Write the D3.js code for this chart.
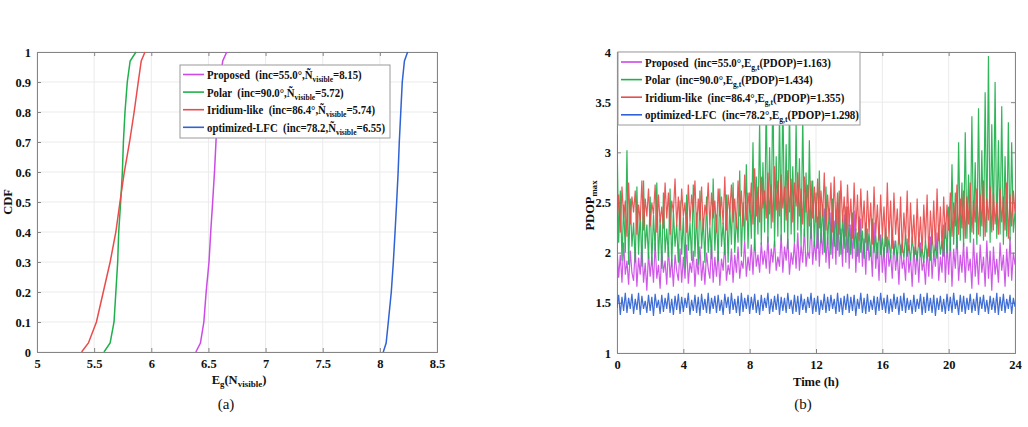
<!DOCTYPE html>
<html>
<head>
<meta charset="utf-8">
<script src="https://cdn.jsdelivr.net/npm/d3@7"></script>
<style>
  body { margin: 0; background: #fff; }
  svg { display: block; font-family: "Liberation Serif", "Times New Roman", serif; }
</style>
</head>
<body>
<svg id="fig" width="1028" height="427"></svg>
<script>
// ---- data: (a) CDF of visible satellites ----
const cdfLevels   = [0, 0.03, 0.1, 0.2, 0.3, 0.4, 0.5, 0.6, 0.7, 0.8, 0.9, 0.97, 1];
const cdfProposed = [6.39, 6.43, 6.46, 6.48, 6.505, 6.52, 6.537, 6.553, 6.566, 6.58, 6.60, 6.625, 6.66];
const cdfPolar    = [5.586, 5.64, 5.674, 5.69, 5.706, 5.715, 5.732, 5.747, 5.756, 5.77, 5.79, 5.815, 5.866];
const cdfIridium  = [5.39, 5.45, 5.52, 5.58, 5.64, 5.69, 5.726, 5.764, 5.81, 5.85, 5.886, 5.912, 5.945];
const cdfLfc      = [8.03, 8.055, 8.074, 8.10, 8.118, 8.133, 8.147, 8.16, 8.17, 8.183, 8.196, 8.215, 8.243];

const xTicksA = [5, 5.5, 6, 6.5, 7, 7.5, 8, 8.5];
const yTicksA = [0, 0.1, 0.2, 0.3, 0.4, 0.5, 0.6, 0.7, 0.8, 0.9, 1];

// ---- data: (b) PDOP max over one day, sampled every 0.1 h ----
const sampleStep = 0.1;
const pdopProposed = [
  2.05,1.75,1.98,1.70,2.10,1.78,1.92,1.68,2.02,1.80,
  1.72,2.05,1.66,1.95,1.78,2.08,1.70,1.90,1.62,2.00,
  1.76,1.96,1.70,2.10,1.74,1.88,1.64,2.02,1.80,1.92,
  1.68,2.06,1.75,1.94,1.66,1.98,1.82,1.72,2.04,1.70,
  1.96,1.74,2.08,1.69,1.90,1.80,2.02,1.66,1.94,1.78,
  2.06,1.72,1.92,1.68,2.00,1.84,1.74,2.08,1.70,1.96,
  1.76,2.02,1.67,1.94,1.82,2.10,1.72,1.88,1.78,2.04,
  1.70,1.98,1.80,2.06,1.74,1.92,1.84,2.12,1.76,1.96,
  1.82,2.08,1.78,2.14,1.86,1.98,1.80,2.10,1.88,2.02,
  1.84,2.16,1.79,2.04,1.90,2.12,1.82,1.96,1.86,2.18,
  1.80,2.06,1.92,2.14,1.78,2.00,1.88,2.10,1.84,2.20,
  1.82,2.08,1.90,2.24,1.86,2.02,1.94,2.30,1.88,2.12,
  1.92,2.36,1.86,2.20,1.98,2.44,1.90,2.16,1.84,2.40,
  1.94,2.32,1.88,2.50,1.96,2.24,1.86,2.38,1.90,2.46,
  1.84,2.28,1.94,2.42,1.80,2.20,1.90,2.34,1.86,2.14,
  1.78,2.24,1.92,2.06,1.76,2.30,1.84,2.10,1.72,2.18,
  1.80,2.04,1.70,2.16,1.86,1.98,1.74,2.12,1.82,2.00,
  1.68,2.08,1.84,1.94,1.72,2.14,1.80,1.96,1.66,2.06,
  1.78,2.02,1.70,2.10,1.82,1.92,1.68,2.04,1.76,2.16,
  1.74,2.00,1.86,2.20,1.72,1.96,1.80,2.28,1.70,2.08,
  1.78,2.12,1.66,2.04,1.84,2.18,1.72,1.98,1.80,2.10,
  1.70,2.06,1.82,1.94,1.64,2.14,1.76,2.00,1.68,2.08,
  1.80,1.96,1.66,2.12,1.74,2.02,1.62,2.06,1.78,1.94,
  1.70,2.10,1.82,1.98,1.66,2.04,1.76,2.16,1.72,2.00,
  1.88
];
const pdopPolar = [
  3.18,2.10,2.62,1.92,2.48,2.00,3.02,1.88,2.54,2.06,
  2.30,1.90,2.66,1.98,2.40,1.86,2.72,2.04,2.28,1.94,
  2.56,1.88,2.38,2.02,2.70,1.92,2.34,1.84,2.60,2.00,
  2.24,1.96,2.64,1.86,2.42,2.06,2.28,1.90,2.52,1.98,
  2.36,1.84,2.58,2.02,2.30,1.92,2.68,1.96,2.40,1.88,
  2.62,2.04,2.34,1.90,2.56,2.00,2.26,1.94,2.74,2.02,
  2.38,1.92,2.64,2.06,2.30,1.98,2.58,1.90,2.46,2.08,
  2.70,2.00,2.36,2.10,2.82,1.96,2.50,2.12,2.88,2.04,
  2.60,2.14,3.10,2.02,2.76,2.18,3.30,2.08,2.90,2.20,
  3.55,2.10,3.05,2.24,3.72,2.06,2.96,2.16,3.40,2.12,
  3.62,2.20,3.08,2.04,3.48,2.18,2.86,2.10,3.30,2.22,
  2.94,2.08,3.36,2.16,2.80,2.02,3.12,2.14,2.72,2.06,
  2.60,2.04,2.82,2.10,2.48,2.00,2.66,2.08,2.44,1.98,
  2.54,2.06,2.38,2.02,2.62,1.98,2.34,2.04,2.46,2.00,
  2.28,1.98,2.40,2.04,2.24,1.96,2.36,2.00,2.22,1.94,
  2.30,2.02,2.20,1.96,2.34,2.00,2.18,1.94,2.26,1.98,
  2.16,1.96,2.24,2.00,2.14,1.94,2.22,1.98,2.12,1.92,
  2.20,1.98,2.10,1.94,2.18,1.96,2.08,1.92,2.16,1.96,
  2.06,1.92,2.14,1.96,2.04,1.90,2.12,1.94,2.10,1.92,
  2.18,1.96,2.08,1.94,2.24,1.98,2.12,1.96,2.30,2.00,
  2.46,2.02,2.88,2.08,2.60,2.04,3.10,2.12,2.70,2.06,
  3.20,2.14,2.78,2.10,3.36,2.18,2.90,2.08,3.44,2.16,
  3.02,2.12,3.60,2.20,3.96,2.10,3.28,2.22,3.70,2.14,
  3.12,2.18,3.46,2.08,2.96,2.16,3.30,2.12,3.10,2.20,
  2.40
];
const pdopIridium = [
  2.30,2.58,2.20,2.66,2.34,2.52,2.16,2.70,2.28,2.56,
  2.40,2.62,2.18,2.48,2.32,2.72,2.22,2.54,2.36,2.64,
  2.26,2.50,2.38,2.68,2.20,2.58,2.30,2.46,2.24,2.70,
  2.34,2.60,2.18,2.52,2.40,2.74,2.26,2.56,2.22,2.64,
  2.36,2.50,2.20,2.68,2.30,2.58,2.40,2.72,2.24,2.54,
  2.32,2.66,2.22,2.48,2.38,2.70,2.26,2.60,2.34,2.52,
  2.20,2.64,2.36,2.56,2.28,2.76,2.22,2.58,2.40,2.68,
  2.30,2.54,2.24,2.72,2.36,2.62,2.26,2.78,2.32,2.60,
  2.40,2.70,2.28,2.84,2.36,2.66,2.30,2.76,2.44,2.62,
  2.34,2.80,2.38,2.68,2.30,2.86,2.42,2.72,2.36,2.78,
  2.44,2.66,2.32,2.82,2.40,2.74,2.30,2.70,2.46,2.80,
  2.36,2.64,2.28,2.76,2.40,2.68,2.26,2.72,2.34,2.66,
  2.30,2.74,2.24,2.62,2.36,2.80,2.22,2.58,2.32,2.70,
  2.20,2.76,2.28,2.60,2.18,2.72,2.30,2.56,2.16,2.68,
  2.26,2.54,2.14,2.70,2.22,2.58,2.12,2.64,2.24,2.52,
  2.10,2.62,2.20,2.50,2.08,2.66,2.18,2.48,2.12,2.58,
  2.16,2.46,2.06,2.70,2.14,2.52,2.04,2.60,2.18,2.44,
  2.08,2.56,2.00,2.40,2.12,2.62,2.02,2.50,2.10,2.38,
  1.98,2.54,2.06,2.36,2.00,2.48,2.10,2.58,1.96,2.42,
  2.08,2.52,2.02,2.64,2.12,2.46,2.04,2.56,2.14,2.48,
  2.22,2.60,2.16,2.50,2.26,2.68,2.18,2.54,2.24,2.62,
  2.14,2.56,2.28,2.70,2.20,2.52,2.30,2.64,2.18,2.58,
  2.26,2.72,2.16,2.54,2.32,2.66,2.20,2.60,2.28,2.50,
  2.18,2.64,2.30,2.56,2.22,2.70,2.14,2.58,2.26,2.62,
  2.40
];
const pdopLfc = [
  1.45,1.58,1.38,1.56,1.42,1.60,1.40,1.55,1.44,1.59,
  1.39,1.54,1.43,1.60,1.38,1.57,1.44,1.52,1.40,1.58,
  1.42,1.56,1.37,1.59,1.45,1.53,1.39,1.58,1.41,1.55,
  1.44,1.60,1.40,1.54,1.38,1.57,1.43,1.59,1.39,1.56,
  1.41,1.55,1.45,1.60,1.38,1.53,1.42,1.58,1.40,1.56,
  1.37,1.59,1.43,1.54,1.40,1.60,1.39,1.55,1.44,1.57,
  1.40,1.58,1.42,1.53,1.38,1.59,1.45,1.56,1.39,1.60,
  1.43,1.54,1.40,1.57,1.37,1.60,1.41,1.55,1.44,1.58,
  1.39,1.56,1.43,1.59,1.40,1.53,1.38,1.58,1.42,1.55,
  1.45,1.60,1.39,1.54,1.41,1.57,1.43,1.59,1.38,1.56,
  1.42,1.55,1.40,1.60,1.44,1.53,1.39,1.58,1.41,1.57,
  1.38,1.59,1.43,1.54,1.40,1.56,1.45,1.60,1.39,1.55,
  1.41,1.57,1.38,1.53,1.43,1.59,1.40,1.56,1.42,1.58,
  1.44,1.54,1.39,1.60,1.41,1.55,1.38,1.57,1.43,1.59,
  1.40,1.56,1.42,1.58,1.37,1.54,1.44,1.60,1.40,1.55,
  1.39,1.59,1.41,1.53,1.43,1.57,1.38,1.56,1.42,1.60,
  1.43,1.55,1.40,1.58,1.39,1.54,1.41,1.59,1.44,1.56,
  1.38,1.57,1.42,1.60,1.40,1.55,1.43,1.53,1.39,1.58,
  1.41,1.54,1.44,1.59,1.38,1.56,1.40,1.60,1.42,1.55,
  1.40,1.58,1.37,1.55,1.43,1.57,1.41,1.54,1.39,1.59,
  1.42,1.56,1.40,1.60,1.44,1.53,1.38,1.58,1.41,1.57,
  1.39,1.55,1.43,1.59,1.40,1.54,1.42,1.60,1.38,1.56,
  1.44,1.58,1.41,1.53,1.39,1.57,1.43,1.55,1.40,1.60,
  1.38,1.56,1.42,1.59,1.40,1.54,1.44,1.58,1.39,1.55,
  1.46
];

const xTicksB = [0, 4, 8, 12, 16, 20, 24];
const yTicksB = [1, 1.5, 2, 2.5, 3, 3.5, 4];

// legend texts
const seriesNames = ['Proposed', 'Polar', 'Iridium-like', 'optimized-LFC'];
const incA = ['55.0°', '90.0°', '86.4°', '78.2'];
const nVisible = ['8.15', '5.72', '5.74', '6.55'];
const incB = ['55.0°', '90.0°', '86.4°', '78.2°'];
const pdopMean = ['1.163', '1.434', '1.355', '1.298'];
const colors = ['#cc4ae6', '#1fb04c', '#ea4b4b', '#2f62d4'];

const svg = d3.select('#fig');
svg.append('rect').attr('width', 1028).attr('height', 427).attr('fill', '#fff');

// draws grid, box and ticks of one panel, returns the chart group
function panel(left, top, w, h, x, y, xt, yt) {
    const g = svg.append('g').attr('transform', `translate(${left},${top})`);

    g.append('g').selectAll('line').data(xt).join('line')
        .attr('x1', d => x(d)).attr('x2', d => x(d))
        .attr('y1', 0).attr('y2', h)
        .attr('stroke', '#ebebeb');
    g.append('g').selectAll('line').data(yt).join('line')
        .attr('x1', 0).attr('x2', w)
        .attr('y1', d => y(d)).attr('y2', d => y(d))
        .attr('stroke', '#ebebeb');

    const fmt = d => String(d);
    g.append('g').attr('class', 'ax').attr('transform', `translate(0,${h})`)
        .call(d3.axisBottom(x).tickValues(xt).tickSize(-4).tickPadding(7).tickFormat(fmt));
    g.append('g').attr('class', 'ax')
        .call(d3.axisLeft(y).tickValues(yt).tickSize(-4).tickPadding(6).tickFormat(fmt));
    g.append('g').attr('class', 'ax')
        .call(d3.axisTop(x).tickValues(xt).tickSize(-4).tickFormat(''));
    g.append('g').attr('class', 'ax').attr('transform', `translate(${w},0)`)
        .call(d3.axisRight(y).tickValues(yt).tickSize(-4).tickFormat(''));

    g.selectAll('.ax path, .ax line').attr('stroke', '#858585');
    g.selectAll('.ax text')
        .attr('fill', '#111')
        .attr('font-family', '"Liberation Serif", serif')
        .attr('font-weight', 'bold')
        .attr('font-size', 12.5);
    return g;
}

// one text line with a subscript piece in the middle
function subText(sel, x, y, before, sub, after, size, weight) {
    const t = sel.append('text')
        .attr('x', x).attr('y', y)
        .attr('font-size', size)
        .attr('font-weight', weight)
        .attr('fill', '#111')
        .style('white-space', 'pre');
    t.append('tspan').text(before);
    t.append('tspan').attr('dy', 3).attr('font-size', size * 0.7).text(sub);
    t.append('tspan').attr('dy', -3).text(after);
    return t;
}

// legend text in the figure is narrow, so it is squeezed horizontally
function legend(g, lx, ly, lw, lh, rowY, squeeze, labels) {
    const lg = g.append('g').attr('transform', `translate(${lx},${ly})`);
    lg.append('rect').attr('width', lw).attr('height', lh)
        .attr('fill', '#fff').attr('stroke', '#9a9a9a');
    labels.forEach((l, i) => {
        const yy = rowY + i * 17.6;
        lg.append('line').attr('x1', 3).attr('x2', 24)
            .attr('y1', yy).attr('y2', yy)
            .attr('stroke', colors[i]).attr('stroke-width', 1.6);
        subText(lg, 0, 0, l[0], l[1], l[2], 13, 'bold')
            .attr('transform', `translate(27,${yy + 4.5}) scale(${squeeze},1)`);
    });
}

// ---------- (a) ----------
const wA = 400, hA = 300;
const xA = d3.scaleLinear().domain([5, 8.5]).range([0, wA]);
const yA = d3.scaleLinear().domain([0, 1]).range([hA, 0]);
const gA = panel(37, 52, wA, hA, xA, yA, xTicksA, yTicksA);

const cdfSeries = [cdfProposed, cdfPolar, cdfIridium, cdfLfc];
const lineA = d3.line().x(d => xA(d[0])).y(d => yA(d[1]));
gA.append('g').selectAll('path').data(cdfSeries).join('path')
    .attr('d', s => lineA(s.map((v, i) => [v, cdfLevels[i]])))
    .attr('fill', 'none')
    .attr('stroke', (s, i) => colors[i])
    .attr('stroke-width', 1.5);

legend(gA, 143, 13, 210, 73, 9.5, 0.83,
    seriesNames.map((n, i) => [`${n}  (inc=${incA[i]},Ñ`, 'visible', `=${nVisible[i]})`]));

gA.append('text').attr('transform', `translate(-25,${hA / 2}) rotate(-90)`)
    .attr('text-anchor', 'middle').attr('font-size', 12.5).attr('font-weight', 'bold')
    .attr('fill', '#111').text('CDF');
const labA = subText(gA, 0, 0, 'E', 'g', '(N', 12.5, 'bold');
labA.append('tspan').attr('dy', 3).attr('font-size', 9).text('visible');
labA.append('tspan').attr('dy', -3).text(')');
labA.attr('x', null).attr('y', null).attr('text-anchor', 'middle')
    .attr('transform', `translate(${wA / 2 + 2},${hA + 32})`);

svg.append('text').attr('x', 226).attr('y', 409)
    .attr('text-anchor', 'middle').attr('font-size', 15).attr('fill', '#111').text('(a)');

// ---------- (b) ----------
const wB = 398, hB = 301;
const xB = d3.scaleLinear().domain([0, 24]).range([0, wB]);
const yB = d3.scaleLinear().domain([1, 4]).range([hB, 0]);
const gB = panel(617, 52, wB, hB, xB, yB, xTicksB, yTicksB);

gB.append('clipPath').attr('id', 'clipB')
    .append('rect').attr('width', wB).attr('height', hB);

const pdopSeries = [pdopProposed, pdopPolar, pdopIridium, pdopLfc];
const lineB = d3.line().x((d, i) => xB(i * sampleStep)).y(d => yB(d));
gB.append('g').attr('clip-path', 'url(#clipB)')
    .selectAll('path').data(pdopSeries).join('path')
    .attr('d', lineB)
    .attr('fill', 'none')
    .attr('stroke', (s, i) => colors[i])
    .attr('stroke-width', 1.2)
    .attr('opacity', 0.92);

legend(gB, 1, 0, 242, 73, 10, 0.84,
    seriesNames.map((n, i) => [`${n}  (inc=${incB[i]},E`, 'g,t', `(PDOP)=${pdopMean[i]})`]));

const labB = subText(gB, 0, 0, 'PDOP', 'max', '', 12.5, 'bold');
labB.attr('x', null).attr('y', null).attr('text-anchor', 'middle')
    .attr('transform', `translate(-23,${hB / 2 + 3}) rotate(-90)`);

gB.append('text').attr('x', wB / 2).attr('y', hB + 33)
    .attr('text-anchor', 'middle').attr('font-size', 12.5).attr('font-weight', 'bold')
    .attr('fill', '#111').text('Time (h)');

svg.append('text').attr('x', 803).attr('y', 409)
    .attr('text-anchor', 'middle').attr('font-size', 15).attr('fill', '#111').text('(b)');
</script>
</body>
</html>
